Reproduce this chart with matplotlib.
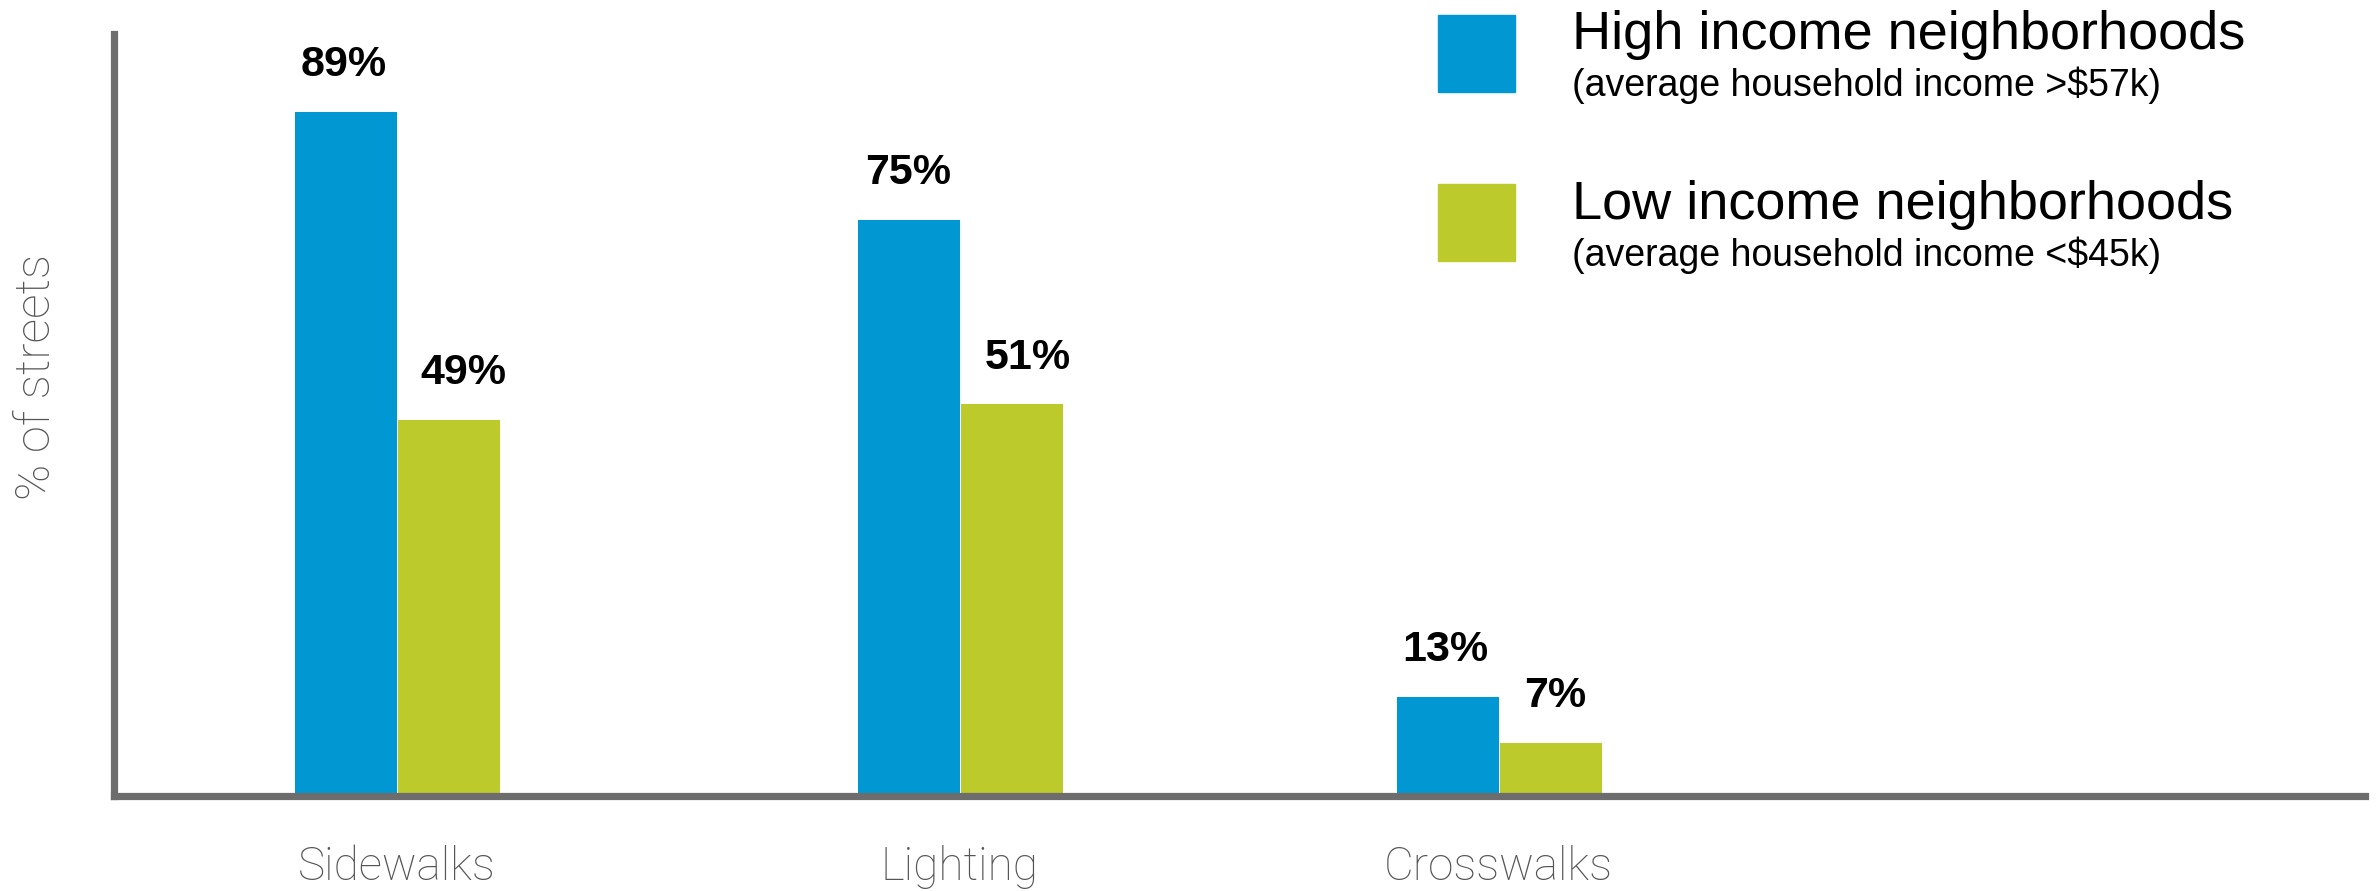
from matplotlib import pyplot as plt
from matplotlib.patches import Rectangle
import numpy as np

# datos
categorias = ["Sidewalks", "Lighting", "Crosswalks"]
alto_ingreso = [89, 75, 13]
bajo_ingreso = [49, 51, 7]
etiqueta_alto = "High income neighborhoods"
sub_alto = "(average household income >$57k)"
etiqueta_bajo = "Low income neighborhoods"
sub_bajo = "(average household income <$45k)"

AZUL = "#0097d3"
VERDE = "#bcca2c"
GRIS_EJE = "#6d6d6d"
GRIS_TXT = "#555555"

W, H = 2380, 891
fig = plt.figure(figsize=(W / 100, H / 100), dpi=100)

# ejes colocados en pixeles
izq, der, base, arriba = 114, 2365, 796, 34
ax = fig.add_axes([izq / W, 1 - base / H, (der - izq) / W, (base - arriba) / H])

pos = np.array([2.743, 8.209, 13.442])  # centros de grupo (unidad = ancho de barra)
ancho = 1.0

b1 = ax.bar(pos - ancho / 2, alto_ingreso, ancho, color=AZUL, edgecolor="white", linewidth=0.7, zorder=1)
b2 = ax.bar(pos + ancho / 2, bajo_ingreso, ancho, color=VERDE, edgecolor="white", linewidth=0.7, zorder=1)

ax.set_xlim(0, (der - izq) / 103)
ax.set_ylim(0, 99)

# etiquetas de valores
desp_alto = [-1, 0, -1.5]
desp_bajo = [11, 12, 4]
for barras, desp in ((b1, desp_alto), (b2, desp_bajo)):
    for r, dx in zip(barras, desp):
        ax.annotate(f"{r.get_height():.0f}%", (r.get_x() + r.get_width() / 2, r.get_height()),
                    xytext=(dx, 25), textcoords="offset points", ha="center", va="baseline",
                    fontsize=31, fontweight="bold", family=["Liberation Sans", "DejaVu Sans"])

for lado in ["top", "right"]:
    ax.spines[lado].set_visible(False)
for lado in ["left", "bottom"]:
    ax.spines[lado].set_color(GRIS_EJE)
    ax.spines[lado].set_linewidth(5.2)
    ax.spines[lado].set_zorder(3)

ax.set_yticks([])
ax.set_xticks(pos)
ax.set_xticklabels(categorias, fontsize=33, color=GRIS_TXT, family=["Roboto", "DejaVu Sans"], fontweight="light")
ax.tick_params(axis="x", length=0, pad=35)

fig.text(37 / W, 1 - 377 / H, "% of streets", rotation=90, ha="center", va="center",
         fontsize=35, color=GRIS_TXT, family=["Roboto", "DejaVu Sans"], fontweight="light")

# leyenda hecha a mano
for color, y0, tit, sub, yb in ((AZUL, 15, etiqueta_alto, sub_alto, 49),
                                (VERDE, 184, etiqueta_bajo, sub_bajo, 219)):
    fig.patches.append(Rectangle((1438 / W, 1 - (y0 + 77) / H), 77 / W, 77 / H,
                                 transform=fig.transFigure, color=color))
    fig.text(1572 / W, 1 - yb / H, tit, ha="left", va="baseline", fontsize=39,
             family=["Liberation Sans", "DejaVu Sans"])
    fig.text(1572 / W, 1 - (yb + 47) / H, sub, ha="left", va="baseline", fontsize=27,
             family=["Liberation Sans", "DejaVu Sans"])

plt.savefig("out.png", dpi=100)
